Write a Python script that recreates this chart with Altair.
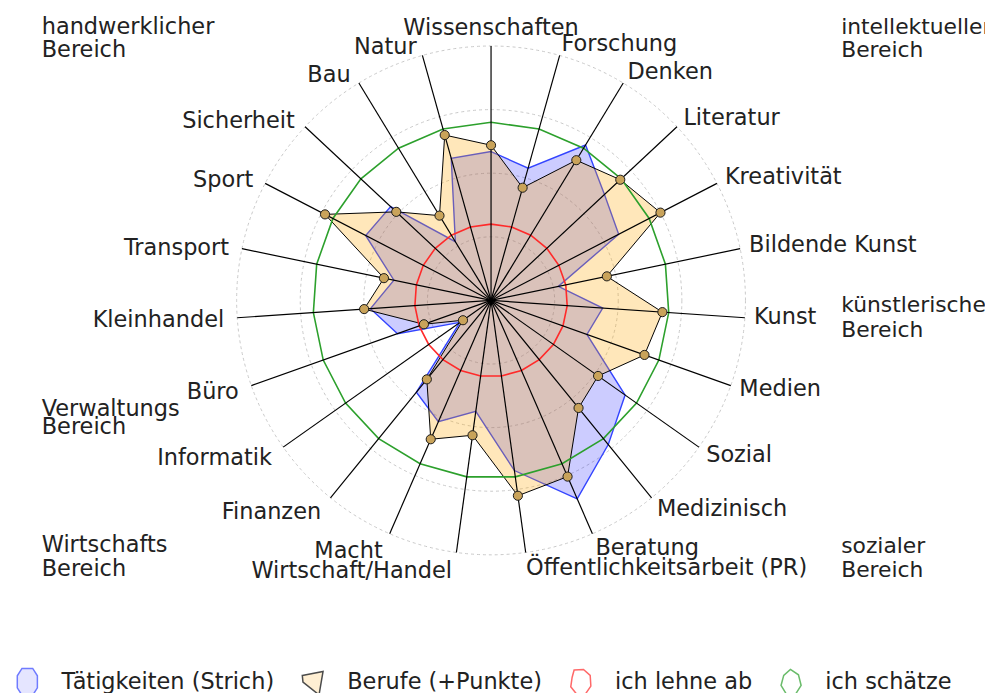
import math
import altair as alt
import pandas as pd

# ---------------- data ----------------
categories = [
    "Wissenschaften", "Forschung", "Denken", "Literatur", "Kreativität",
    "Bildende Kunst", "Kunst", "Medien", "Sozial", "Medizinisch", "Beratung",
    "Öffentlichkeitsarbeit (PR)", "Wirtschaft/Handel", "Macht", "Finanzen",
    "Informatik", "Büro", "Kleinhandel", "Transport", "Sport", "Sicherheit",
    "Bau", "Natur",
]
taetigkeiten = [58.5, 54, 71.5, 61, 56.5, 27, 44, 40, 64.5, 73, 85, 67.5,
                44, 52, 46.5, 15, 39, 47.5, 39, 55.5, 54, 27, 58]
berufe = [61, 46, 64.5, 69.5, 75, 46.5, 67.5, 64, 51.5, 54.5, 75.5, 77.5,
          53.5, 59.5, 40, 13.5, 28, 50, 43, 73.5, 51, 39, 67.5]
ablehnung = [30, 30, 30, 30, 30, 30, 30, 30, 30, 30, 30, 30,
             30, 30, 30, 30, 30, 30, 30, 30, 30, 30, 30]
schaetzung = [70, 70, 70, 70, 70, 70, 70, 70, 70, 70, 70, 70,
              70, 70, 70, 70, 70, 70, 70, 70, 70, 70, 70]
grid_levels = [25, 50, 75, 100]
series_names = ["Tätigkeiten (Strich)", "Berufe (+Punkte)", "ich lehne ab", "ich schätze"]
bereiche = [
    "handwerklicher\nBereich", "intellektueller\nBereich", "künstlerischer\nBereich",
    "sozialer\nBereich", "Wirtschafts\nBereich", "Verwaltungs\nBereich",
]

# ---------------- geometry / styles ----------------
N = len(categories)
W, H = 985, 686
CX, CY = 487, 292          # centre of the web, view pixels
RPX = 256.5                # pixel radius of value 100
K = RPX / 100.0
xs = alt.Scale(domain=[-CX / K, (W - CX) / K], nice=False, zero=False)
ys = alt.Scale(domain=[-(H - CY) / K, CY / K], nice=False, zero=False)
FONT = "DejaVu Sans"
FS = 22.6
TXT = "#222222"
LR = 100 + 10.2 / K        # label radius
LOW = 7.5 / K              # extra drop of labels below the centre

ANG = f"datum.i * 2 * PI / {N}"

axes_df = pd.DataFrame({"cat": categories, "i": list(range(N))})
poly_df = pd.DataFrame({
    "i": list(range(N)) * 4,
    "serie": [s for s in series_names for _ in range(N)],
    "v": taetigkeiten + berufe + ablehnung + schaetzung,
})


def X(f):
    return alt.X(f, type="quantitative", scale=xs, axis=None)


def Y(f):
    return alt.Y(f, type="quantitative", scale=ys, axis=None)


def polar(df):
    return (alt.Chart(df)
            .transform_calculate(a=ANG)
            .transform_calculate(px="datum.v * sin(datum.a)",
                                 py="datum.v * cos(datum.a)"))


# grid circles (symbol diameter driven by a size scale)
grid = (alt.Chart(pd.DataFrame({"g": grid_levels}))
        .transform_calculate(zx="0", zy="0")
        .mark_point(shape="circle", filled=False, stroke="#c8c8c8", strokeWidth=1,
                    strokeDash=[3, 3], opacity=1)
        .encode(x=X("zx"), y=Y("zy"),
                size=alt.Size("g:Q", legend=None,
                              scale=alt.Scale(type="pow", exponent=2, domain=[0, 100],
                                              range=[0, (2 * RPX) ** 2], zero=True, nice=False))))


def poly(name, **mk):
    return (polar(poly_df)
            .transform_filter(alt.datum.serie == name)
            .mark_line(interpolate="linear-closed", **mk)
            .encode(x=X("px"), y=Y("py"), order=alt.Order("i:Q")))


blue = poly(series_names[0], stroke="#3344ff", strokeWidth=1.4, fill="rgba(0,0,255,0.2)")
tan = poly(series_names[1], stroke="#000000", strokeWidth=1, fill="rgba(255,165,0,0.27)")
red = poly(series_names[2], stroke="#ff2a2a", strokeWidth=1.6)
green = poly(series_names[3], stroke="#2ca02c", strokeWidth=1.6)

spokes = (alt.Chart(axes_df)
          .transform_calculate(a=ANG)
          .transform_calculate(ex="100 * sin(datum.a)", ey="100 * cos(datum.a)", zx="0", zy="0")
          .mark_rule(color="#000000", strokeWidth=1.2)
          .encode(x=X("zx"), y=Y("zy"), x2="ex:Q", y2="ey:Q"))

points = (polar(poly_df)
          .transform_filter(alt.datum.serie == series_names[1])
          .mark_point(shape="circle", filled=True, fill="#c9a35a", stroke="#1a1a1a",
                      strokeWidth=1, size=85, opacity=1)
          .encode(x=X("px"), y=Y("py")))

lab_base = (alt.Chart(axes_df)
            .transform_calculate(a=ANG)
            .transform_calculate(s="sin(datum.a)", lx=f"{LR} * sin(datum.a)",
                                 ly=f"{LR} * cos(datum.a) - {LOW} * max(0, -cos(datum.a))"))
txt = dict(font=FONT, fontSize=FS, color=TXT)
lab_left = lab_base.transform_filter("datum.s > 0.01").mark_text(
    align="left", baseline="middle", dx=-1, dy=-2, **txt).encode(x=X("lx"), y=Y("ly"), text="cat:N")
lab_right = lab_base.transform_filter("datum.s < -0.01").mark_text(
    align="right", baseline="middle", dx=-3, dy=1, **txt).encode(x=X("lx"), y=Y("ly"), text="cat:N")
lab_mid = lab_base.transform_filter("abs(datum.s) <= 0.01").mark_text(
    align="center", baseline="alphabetic", dy=-1, **txt).encode(x=X("lx"), y=Y("ly"), text="cat:N")

# group labels in the corners (pixel placement)
corner_pos = [(34, 23, 24, FS), (840, 23, 24, 22), (840, 304, 25, 22), (840, 547, 24, 22),
              (34, 546, 23.5, FS), (34, 409, 18, FS)]
corners = []
for t, (px_, py_, lh, fs) in zip(bereiche, corner_pos):
    corners.append(
        alt.Chart(pd.DataFrame({"t": [t]}))
        .mark_text(align="left", baseline="alphabetic", lineBreak="\n", lineHeight=lh,
                   x=px_, y=py_, font=FONT, fontSize=fs, color=TXT)
        .encode(text="t:N"))

# legend driven by scales
shapes = [
    "M-0.4,-1 L0.4,-1 L0.75,-0.45 L0.75,0.45 L0.4,1 L-0.4,1 L-0.75,0.45 L-0.75,-0.45 Z",
    "M-0.8,-0.5 L0.75,-0.8 L0.45,0.95 L-0.75,0.0 Z",
    "M-0.5,-0.9 L0.2,-0.95 L0.7,-0.5 L0.75,0.3 L0.3,0.95 L-0.35,0.85 L-0.75,0.35 L-0.65,-0.35 Z",
    "M-0.05,-0.95 L0.55,-0.55 L0.75,0.25 L0.3,0.95 L-0.35,0.9 L-0.75,0.25 L-0.55,-0.5 Z",
]
fills = ["rgba(0,0,255,0.2)", "rgba(255,165,0,0.35)", "transparent", "transparent"]
strokes = ["#3344ff", "#000000", "#ff2a2a", "#2ca02c"]
leg = alt.Legend(title=None, orient="none", legendX=5, legendY=662, direction="horizontal",
                 symbolSize=729, symbolStrokeWidth=1.5, labelFont=FONT, labelFontSize=FS,
                 labelColor=TXT, labelOffset=20, columnPadding=24, padding=0, labelLimit=400)
dummy = (alt.Chart(pd.DataFrame({"serie": series_names}))
         .transform_calculate(zx="0", zy="0")
         .mark_point(size=1, strokeWidth=1.5)
         .encode(x=X("zx"), y=Y("zy"),
                 shape=alt.Shape("serie:N", scale=alt.Scale(domain=series_names, range=shapes), legend=leg),
                 fill=alt.Fill("serie:N", scale=alt.Scale(domain=series_names, range=fills), legend=leg),
                 stroke=alt.Stroke("serie:N", scale=alt.Scale(domain=series_names, range=strokes), legend=leg)))

chart = (alt.layer(dummy, grid, blue, tan, red, green, spokes, points,
                   lab_left, lab_right, lab_mid, *corners)
         .resolve_scale(size="independent")
         .properties(width=W, height=H, autosize=alt.AutoSizeParams(type="none"), padding=0,
                     background="white")
         .configure_view(strokeWidth=0))

chart.save("out.html", embed_options={"renderer": "svg", "actions": False})
